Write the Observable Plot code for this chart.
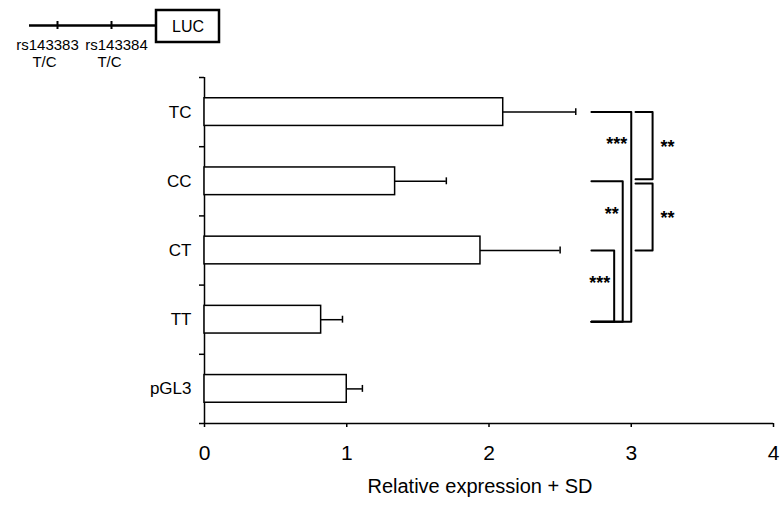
<!DOCTYPE html>
<html>
<head>
<meta charset="utf-8">
<script src="https://cdn.jsdelivr.net/npm/d3@7"></script>
<script src="https://cdn.jsdelivr.net/npm/@observablehq/plot@0.6"></script>
<style>
  html, body { margin: 0; padding: 0; background: white; }
  #wrap { position: relative; width: 780px; height: 506px; overflow: hidden; font-family: "Liberation Sans", Arial, sans-serif; }
  #wrap svg { position: absolute; left: 0; top: 0; }
</style>
</head>
<body>
<div id="wrap"></div>
<script>
// ---- data ----
const categories = ["TC", "CC", "CT", "TT", "pGL3"];
const means = [2.10, 1.34, 1.94, 0.82, 1.00];
const sds = [0.51, 0.36, 0.56, 0.15, 0.11];
const xTicks = [0, 1, 2, 3, 4];
const xLabel = "Relative expression + SD";

// significance comparisons (vs TT on the left, adjacent pairs on the right)
const leftFrom = ["TC", "CC", "CT"];
const leftTo = ["TT", "TT", "TT"];
const leftStars = ["***", "**", "***"];
const rightFrom = ["TC", "CC"];
const rightTo = ["CC", "CT"];
const rightStars = ["**", "**"];

// construct diagram labels
const snpIds = ["rs143383", "rs143384"];
const snpAlleles = ["T/C", "T/C"];
const reporter = "LUC";

// ---- layout (not data) ----
const leftStart = 2.72;
const leftEnds = [3.0, 2.94, 2.88];
const rightX1 = 3.03, rightX2 = 3.15;
const font = "Liberation Sans, Arial, sans-serif";

const idx = new Map(categories.map((c, i) => [c, i]));
const rows = categories.map((c, i) => ({cat: c, i, mean: means[i], sd: sds[i]}));

// bracket paths
const paths = [];
const starRows = [];
leftFrom.forEach((f, k) => {
  const y1 = idx.get(f) + 0.5, y2 = idx.get(leftTo[k]) + 0.53, xe = leftEnds[k];
  [[leftStart, y1], [xe, y1], [xe, y2], [leftStart, y2]].forEach(([x, y]) => paths.push({id: "L" + k, x, y}));
  starRows.push({x: xe, y: idx.get(f) + 0.97, t: leftStars[k], side: "L"});
});
rightFrom.forEach((f, k) => {
  const y1 = idx.get(f) + 0.5 + (k > 0 ? 0.03 : 0);
  const y2 = idx.get(rightTo[k]) + 0.5 - (k === 0 ? 0.03 : 0);
  [[rightX1, y1], [rightX2, y1], [rightX2, y2], [rightX1, y2]].forEach(([x, y]) => paths.push({id: "R" + k, x, y}));
  starRows.push({x: rightX2, y: (y1 + y2) / 2 + 0.02, t: rightStars[k], side: "R"});
});

const main = Plot.plot({
  width: 780,
  height: 506,
  marginLeft: 204,
  marginRight: 7,
  marginTop: 77,
  marginBottom: 83,
  style: {fontFamily: font, fontSize: "16px", color: "black", background: "white"},
  x: {domain: [0, 4]},
  y: {domain: [0, 5], reverse: true},
  marks: [
    Plot.axisY({ticks: d3.range(0, categories.length + 1), tickFormat: () => "", tickSize: 5, strokeWidth: 1.5, label: null}),
    Plot.axisY({ticks: categories.map((c, i) => i + 0.5), tickFormat: d => categories[Math.floor(d)], tickSize: 0, tickPadding: 13, fontSize: 17, label: null}),
    Plot.axisX({ticks: xTicks, tickFormat: d3.format("d"), tickSize: 4, tickPadding: 18, fontSize: 21, strokeWidth: 1.5, label: null}),
    Plot.ruleX([0], {y1: 0, y2: categories.length, strokeWidth: 1.5}),
    Plot.ruleY([categories.length], {x1: 0, x2: 4, strokeWidth: 1.5}),
    Plot.rectX(rows, {x1: 0, x2: "mean", y1: d => d.i + 0.3, y2: d => d.i + 0.7, fill: "white", stroke: "black", strokeWidth: 1.5}),
    Plot.ruleY(rows, {x1: "mean", x2: d => d.mean + d.sd, y: d => d.i + 0.5, strokeWidth: 1.5}),
    Plot.ruleX(rows, {x: d => d.mean + d.sd, y1: d => d.i + 0.45, y2: d => d.i + 0.55, strokeWidth: 1.5}),
    Plot.line(paths, {x: "x", y: "y", z: "id", stroke: "black", strokeWidth: 2}),
    Plot.text(starRows.filter(d => d.side === "L"), {x: "x", y: "y", text: "t", textAnchor: "end", dx: -4, fontSize: 18, fontWeight: "bold"}),
    Plot.text(starRows.filter(d => d.side === "R"), {x: "x", y: "y", text: "t", textAnchor: "start", dx: 8, fontSize: 18, fontWeight: "bold"}),
    Plot.text([xLabel], {frameAnchor: "bottom", dy: 69, dx: -9, fontSize: 20})
  ]
});

// construct diagram (schematic, pixel-like units)
const snpPos = [57, 111];
const snpLabelX = [47, 116];
const alleleX = [44, 109];
const diagram = Plot.plot({
  width: 240,
  height: 75,
  margin: 0,
  style: {fontFamily: font, background: "transparent", color: "black"},
  x: {domain: [0, 240], range: [0, 240], axis: null},
  y: {domain: [0, 75], range: [0, 75], axis: null},
  marks: [
    Plot.ruleY([25], {x1: 29, x2: 156, strokeWidth: 2.5}),
    Plot.ruleX(snpPos, {x: d => d, y1: 21, y2: 29, strokeWidth: 2}),
    Plot.rect([reporter], {x1: 156, x2: 219, y1: 10, y2: 42, fill: "white", stroke: "black", strokeWidth: 2.5}),
    Plot.text([reporter], {x: 187.5, y: 26, fontSize: 16}),
    Plot.text(snpIds, {x: (d, i) => snpLabelX[i], y: 45, fontSize: 15}),
    Plot.text(snpAlleles, {x: (d, i) => alleleX[i], y: 62, fontSize: 15})
  ]
});

const wrap = document.getElementById("wrap");
wrap.appendChild(main);
wrap.appendChild(diagram);
</script>
</body>
</html>
